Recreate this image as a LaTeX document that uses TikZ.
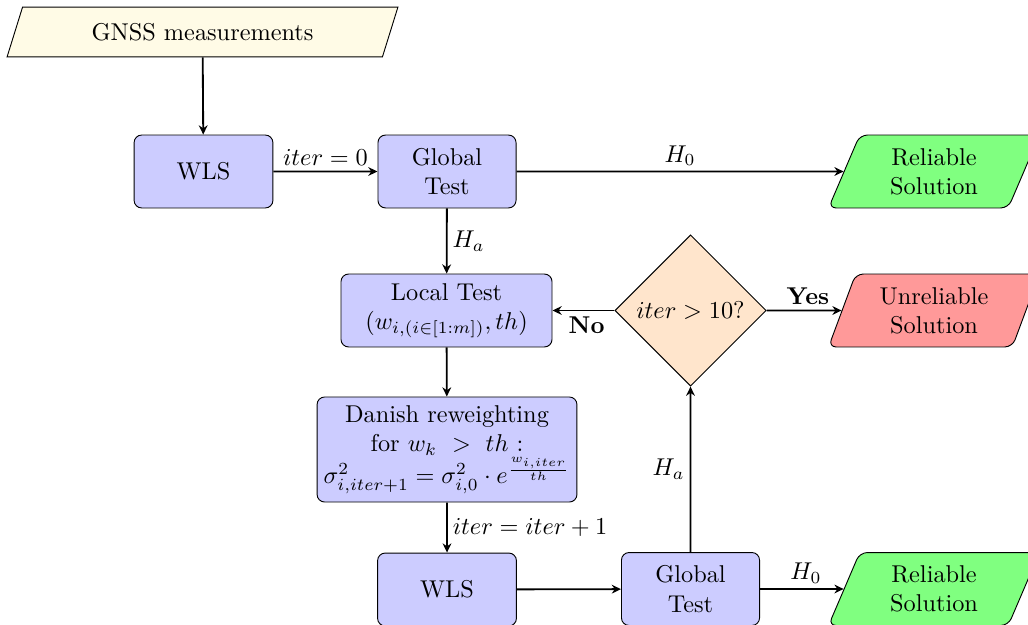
\documentclass[tikz,border=0pt]{standalone}
\usetikzlibrary{shapes.geometric,arrows.meta}
\definecolor{gnssfill}{RGB}{255,251,230}
\begin{document}
\begin{tikzpicture}[x=0.4348pt,y=-0.4348pt,
  every node/.append style={scale=1.057},
  box/.style={draw, rounded corners=3.3pt, fill=blue!20, align=center, minimum height=30pt, inner sep=2pt},
  para/.style={draw, trapezium, trapezium left angle=70, trapezium right angle=110, trapezium stretches=true, align=center, minimum height=30pt, inner sep=2pt},
  arr/.style={-{Stealth[length=4pt,width=3.8pt,inset=1.3pt]}, thick},
  lbl/.style={inner sep=2pt}]
\useasboundingbox (0,0) rectangle (1028,624);
\node[para, fill=gnssfill, minimum width=160.8pt, minimum height=20.5pt] (gnss) at (202.5,32) {GNSS measurements};
\node[box, minimum width=57.1pt] (wls1) at (203.5,171.5) {WLS};
\node[box, minimum width=56.8pt] (gt1) at (447,171.5) {Global\\Test};
\node[para, rounded corners=3.3pt, fill=green!50, minimum width=87pt] (rel1) at (934,171.5) {Reliable\\Solution};
\node[box, minimum width=86.8pt] (lt) at (446.5,310.5) {Local Test\\$(w_{i,(i\in[1:m])},th)$};
\node[draw, diamond, aspect=1, fill=orange!20, minimum size=62.2pt, inner sep=0pt] (dec) at (690.5,310.5) {$iter>10?$};
\node[para, rounded corners=3.3pt, fill=red!40, minimum width=87pt] (unrel) at (934,310.5) {Unreliable\\Solution};
\node[box, minimum width=106.9pt, minimum height=43.2pt, inner sep=1pt] (dan) at (447,449.5) {Danish reweighting\\for $w_k\ >\ th$ :\\$\sigma^2_{i,iter+1}=\sigma^2_{i,0}\cdot e^{\frac{w_{i,iter}}{th}}$};
\node[box, minimum width=57.1pt] (wls2) at (447,589.5) {WLS};
\node[box, minimum width=56.8pt] (gt2) at (690.5,589) {Global\\Test};
\node[para, rounded corners=3.3pt, fill=green!50, minimum width=87pt] (rel2) at (934,589) {Reliable\\Solution};

\draw[arr] (gnss) -- (wls1);
\draw[arr] (wls1) -- node[lbl, above] (l1) {$iter=0$} (gt1);
\draw[arr] (gt1) -- node[lbl, above] (l2) {$H_0$} (rel1);
\draw[arr] (gt1) -- node[lbl, right] (l3) {$H_a$} (lt);
\draw[arr] (dec) -- node[lbl, below, pos=0.45] (l4) {\textbf{No}} (lt);
\draw[arr] (dec) -- node[lbl, above, pos=0.55] (l5) {\textbf{Yes}} (unrel);
\draw[arr] (lt) -- (dan);
\draw[arr] (dan) -- node[lbl, right] (l6) {$iter=iter+1$} (wls2);
\draw[arr] (wls2) -- (gt2);
\draw[arr] (gt2) -- node[lbl, left] (l7) {$H_a$} (dec);
\draw[arr] (gt2) -- node[lbl, above, pos=0.55] (l8) {$H_0$} (rel2);
\end{tikzpicture}
\end{document}
